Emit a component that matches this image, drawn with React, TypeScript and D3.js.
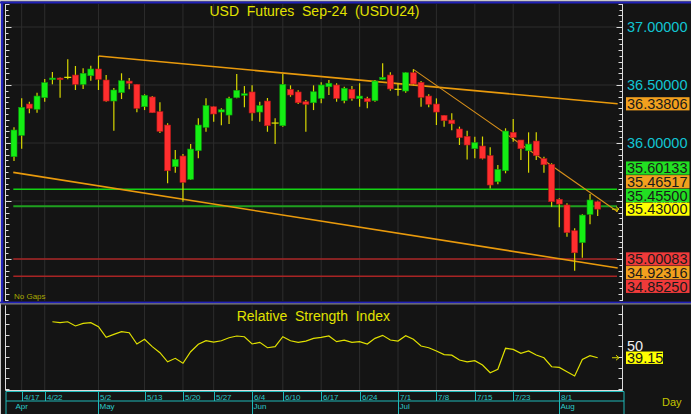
import * as d3 from 'd3';
import { useRef, useEffect } from 'react';

// trading days shown (Thai USD futures, Sep-24 contract)
const dates = [
  '4/12', '4/17', '4/18', '4/19', '4/22', '4/23', '4/24', '4/25', '4/26', '4/29',
  '4/30', '5/2', '5/3', '5/7', '5/8', '5/9', '5/10', '5/13', '5/14', '5/15',
  '5/16', '5/17', '5/20', '5/21', '5/23', '5/24', '5/27', '5/28', '5/29', '5/30',
  '5/31', '6/4', '6/5', '6/6', '6/7', '6/10', '6/11', '6/12', '6/13', '6/14',
  '6/17', '6/18', '6/19', '6/20', '6/21', '6/24', '6/25', '6/26', '6/27', '6/28',
  '7/1', '7/2', '7/3', '7/4', '7/5', '7/8', '7/9', '7/10', '7/11', '7/12',
  '7/15', '7/16', '7/17', '7/18', '7/19', '7/23', '7/24', '7/25', '7/26', '7/30',
  '7/31', '8/1', '8/2', '8/5', '8/6', '8/7', '8/8',
];

const opens = [
  35.882, 36.066, 36.336, 36.291, 36.391, 36.546, 36.560, 36.566, 36.586, 36.506,
  36.580, 36.638, 36.543, 36.362, 36.434, 36.534, 36.506, 36.313, 36.397, 36.270,
  36.155, 35.796, 35.888, 35.687, 35.934, 36.135, 36.313, 36.267, 36.241, 36.391,
  36.411, 36.440, 36.267, 36.362, 36.172, 36.149, 36.463, 36.440, 36.356, 36.347,
  36.385, 36.485, 36.500, 36.365, 36.463, 36.382, 36.385, 36.365, 36.549, 36.586,
  36.463, 36.448, 36.606, 36.523, 36.405, 36.336, 36.239, 36.198, 36.121, 36.058,
  35.951, 35.974, 35.891, 35.666, 35.761, 36.092, 36.026, 35.934, 36.017, 35.865,
  35.816, 35.515, 35.466, 35.244, 35.141, 35.385, 35.494,
];
const highs = [
  36.135, 36.385, 36.356, 36.434, 36.552, 36.612, 36.565, 36.722, 36.664, 36.644,
  36.666, 36.750, 36.586, 36.474, 36.601, 36.560, 36.509, 36.420, 36.405, 36.351,
  36.170, 35.940, 35.905, 35.991, 36.213, 36.385, 36.316, 36.299, 36.399, 36.595,
  36.491, 36.497, 36.356, 36.388, 36.213, 36.595, 36.497, 36.454, 36.371, 36.497,
  36.523, 36.543, 36.515, 36.485, 36.491, 36.515, 36.399, 36.543, 36.687, 36.609,
  36.515, 36.610, 36.635, 36.534, 36.420, 36.385, 36.242, 36.256, 36.141, 36.106,
  36.054, 36.056, 35.963, 35.810, 36.127, 36.207, 36.026, 36.092, 36.092, 35.882,
  35.825, 35.523, 35.480, 35.265, 35.385, 35.560, 35.503,
];
const lows = [
  35.845, 35.951, 36.256, 36.261, 36.356, 36.506, 36.391, 36.549, 36.457, 36.466,
  36.537, 36.457, 36.356, 36.106, 36.379, 36.463, 36.265, 36.284, 36.259, 36.086,
  35.653, 35.744, 35.494, 35.681, 35.868, 36.097, 36.184, 36.153, 36.164, 36.385,
  36.308, 36.192, 36.184, 36.097, 35.991, 36.141, 36.399, 36.336, 36.097, 36.284,
  36.342, 36.414, 36.356, 36.342, 36.365, 36.313, 36.299, 36.356, 36.543, 36.451,
  36.408, 36.434, 36.497, 36.313, 36.308, 36.155, 36.141, 36.109, 35.983, 35.859,
  35.868, 35.859, 35.609, 35.644, 35.739, 36.011, 35.853, 35.744, 35.853, 35.744,
  35.451, 35.273, 35.192, 34.899, 35.011, 35.299, 35.371,
];
const closes = [
  36.112, 36.308, 36.299, 36.405, 36.520, 36.560, 36.546, 36.566, 36.506, 36.601,
  36.638, 36.549, 36.362, 36.457, 36.537, 36.515, 36.299, 36.411, 36.261, 36.101,
  35.761, 35.859, 35.661, 35.948, 36.155, 36.322, 36.250, 36.287, 36.385, 36.454,
  36.425, 36.259, 36.322, 36.149, 36.172, 36.506, 36.414, 36.347, 36.334, 36.442,
  36.500, 36.515, 36.385, 36.472, 36.385, 36.405, 36.356, 36.534, 36.566, 36.466,
  36.463, 36.606, 36.509, 36.394, 36.334, 36.267, 36.192, 36.166, 36.046, 35.983,
  36.003, 35.868, 35.638, 35.773, 36.103, 36.049, 35.951, 35.991, 35.891, 35.813,
  35.494, 35.474, 35.227, 35.054, 35.379, 35.509, 35.430,
];

const rsi: (number | null)[] = [
  null, null, null, null, null, 72.5, 71.6, 72.5, 68.6, 71.0,
  71.6, 67.9, 58.0, 60.8, 63.3, 62.3, 51.9, 56.2, 49.4, 43.8,
  35.4, 38.6, 34.0, 44.7, 51.6, 54.9, 53.7, 54.9, 57.7, 59.3,
  58.6, 51.9, 53.4, 48.4, 49.4, 58.6, 54.9, 53.4, 54.6, 57.1,
  58.0, 59.3, 54.0, 55.5, 53.4, 54.0, 51.9, 57.1, 59.9, 55.6,
  54.6, 59.6, 56.2, 50.0, 48.4, 45.4, 42.0, 41.5, 37.0, 35.4,
  36.4, 32.4, 25.2, 28.5, 47.9, 46.9, 43.2, 45.4, 41.7, 39.1,
  30.8, 30.2, 26.2, 22.2, 37.5, 41.0, 39.15,
];

const dateTicks = ['4/17', '4/22', '5/2', '5/13', '5/20', '5/27', '6/4', '6/10', '6/17', '6/24', '7/1', '7/8', '7/15', '7/23', '8/1'];
const monthNames = ['Apr', 'May', 'Jun', 'Jul', 'Aug'];
const monthStarts = ['4/12', '5/2', '6/4', '7/1', '8/1'];

const priceTicks = [37, 36.5, 36, 35.5, 35];
const rsiTicks = [10, 20, 30, 40, 50, 60, 70, 80];

// drawn levels and trend lines (bar index, price)
const levelValues = [35.60133, 35.455, 35.00083, 34.8525];
const levelKinds = ['support', 'pivot', 'stop', 'stop'];
const trendFrom = [[11, 36.75], [-0.1, 35.747], [52, 36.635]];
const trendTo = [[78.6, 36.33806], [78.6, 34.92316], [78.6, 35.408]];
const trendKinds = ['channel', 'channel', 'short'];

// right-hand value tags, top to bottom
const tagValues = [36.33806, 35.60133, 35.46517, 35.455, 35.43, 35.00083, 34.92316, 34.8525];
const tagKinds = ['trend', 'support', 'trend', 'support', 'last', 'stop', 'trend', 'stop'];
const lastPrice = 35.43;
const rsiLast = 39.15;

const FONT = 'Liberation Sans, Arial, sans-serif';
const tagColor: Record<string, string> = {
  trend: '#f2a01e', support: '#22e022', last: '#ffff00', stop: '#f03a3a',
};
const levelColor: Record<string, string> = {
  support: '#12d212', pivot: '#1fa01f', stop: '#a82424',
};

export default function App() {
  const svgRef = useRef<SVGSVGElement>(null);

  useEffect(() => {
    if (!svgRef.current) return;
    const svg = d3.select(svgRef.current);
    svg.selectAll('*').remove();

    const W = 691, H = 414;
    const axisX = 622.5;
    const mainTop = 4, mainBottom = 301;
    const rsiTop = 305.5, rsiBottom = 390.5;

    const x = d3.scaleLinear().domain([0, dates.length - 1]).range([14, 597.7]);
    const y = d3.scaleLinear().domain([34.64, 37.2]).range([300.8, 3.8]);
    const yr = d3.scaleLinear().domain([8.3, 87.1]).range([391, 306]);
    const at = (d: string) => x(dates.indexOf(d));

    svg.append('rect').attr('width', W).attr('height', H).attr('fill', '#141414');

    // frame
    svg.append('rect').attr('x', 0).attr('y', 0).attr('width', W).attr('height', 1.5).attr('fill', '#c8c8c8');
    svg.append('rect').attr('x', 0).attr('y', 0).attr('width', 1).attr('height', H).attr('fill', '#c8c8c8');
    svg.append('rect').attr('x', 0).attr('y', 1.5).attr('width', W).attr('height', 2).attr('fill', '#2020b8');
    svg.append('rect').attr('x', 1).attr('y', 1.5).attr('width', 2.3).attr('height', 301).attr('fill', '#2020b8');
    svg.append('rect').attr('x', 0).attr('y', 301.6).attr('width', W).attr('height', 1.8).attr('fill', '#2020b8');
    svg.append('rect').attr('x', 0).attr('y', 303.4).attr('width', W).attr('height', 1).attr('fill', '#9a9a9a');

    // grid
    const grid = svg.append('g').attr('stroke', '#2d2d2d').attr('stroke-width', 1);
    dateTicks.forEach((d) => {
      grid.append('line').attr('x1', at(d)).attr('x2', at(d)).attr('y1', mainTop).attr('y2', mainBottom);
      grid.append('line').attr('x1', at(d)).attr('x2', at(d)).attr('y1', rsiTop).attr('y2', rsiBottom);
    });
    priceTicks.forEach((p) => {
      grid.append('line').attr('x1', 6).attr('x2', axisX).attr('y1', y(p)).attr('y2', y(p));
    });

    // axes lines + ticks
    const axes = svg.append('g').attr('stroke', '#dcdcdc').attr('stroke-width', 1);
    axes.append('line').attr('x1', 5.5).attr('x2', 5.5).attr('y1', mainTop).attr('y2', mainBottom);
    axes.append('line').attr('x1', axisX).attr('x2', axisX).attr('y1', mainTop).attr('y2', mainBottom);
    axes.append('line').attr('x1', 5.5).attr('x2', 5.5).attr('y1', rsiTop).attr('y2', rsiBottom);
    axes.append('line').attr('x1', axisX).attr('x2', axisX).attr('y1', rsiTop).attr('y2', rsiBottom);
    axes.append('line').attr('x1', 5.5).attr('x2', axisX).attr('y1', rsiBottom).attr('y2', rsiBottom);
    d3.range(34.65, 37.2, 0.05).forEach((v) => {
      const half = Math.abs(v * 2 - Math.round(v * 2)) < 1e-6;
      const tenth = Math.abs(v * 10 - Math.round(v * 10)) < 1e-6;
      const len = half ? 6 : tenth ? 4 : 3;
      const yy = Math.round(y(v)) + 0.5;
      axes.append('line').attr('x1', 5.5).attr('x2', 5.5 + len).attr('y1', yy).attr('y2', yy);
      axes.append('line').attr('x1', axisX - len).attr('x2', axisX).attr('y1', yy).attr('y2', yy);
    });
    rsiTicks.forEach((v) => {
      const yy = Math.round(yr(v)) + 0.5;
      axes.append('line').attr('x1', 5.5).attr('x2', 9.5).attr('y1', yy).attr('y2', yy);
      axes.append('line').attr('x1', axisX - 4).attr('x2', axisX).attr('y1', yy).attr('y2', yy);
    });

    // price axis labels
    svg.append('g')
      .attr('transform', `translate(${axisX},0)`)
      .call(d3.axisRight(y).tickValues(priceTicks).tickSize(0).tickPadding(4.5).tickFormat(d3.format('.5f')))
      .call((ag) => ag.select('.domain').remove())
      .call((ag) => ag.selectAll('.tick text')
        .attr('font-family', FONT).attr('font-size', 14.5).attr('fill', '#12c4d2'));

    // levels
    levelValues.forEach((v, i) => {
      svg.append('line')
        .attr('x1', 13.3).attr('x2', 617).attr('y1', y(v)).attr('y2', y(v))
        .attr('stroke', levelColor[levelKinds[i]])
        .attr('stroke-width', levelKinds[i] === 'pivot' ? 2 : 1.5);
    });

    // trend lines
    trendFrom.forEach((f, i) => {
      const t = trendTo[i];
      svg.append('line')
        .attr('x1', x(f[0])).attr('y1', y(f[1]))
        .attr('x2', x(t[0])).attr('y2', y(t[1]))
        .attr('stroke', trendKinds[i] === 'short' ? '#d8901a' : '#e99a0c')
        .attr('stroke-width', trendKinds[i] === 'short' ? 1.1 : 1.6);
    });

    // candles
    const candles = svg.append('g');
    dates.forEach((_, i) => {
      const cx = x(i);
      const o = opens[i], c = closes[i];
      candles.append('line')
        .attr('x1', cx).attr('x2', cx).attr('y1', y(highs[i])).attr('y2', y(lows[i]))
        .attr('stroke', '#d8d800').attr('stroke-width', 1.2);
      if (o === c) {
        candles.append('line')
          .attr('x1', cx - 3.5).attr('x2', cx + 3.5).attr('y1', y(o)).attr('y2', y(o))
          .attr('stroke', '#e8e800').attr('stroke-width', 1.2);
        return;
      }
      const up = c > o;
      const top = y(Math.max(o, c));
      const h = Math.max(1.6, Math.abs(y(o) - y(c)));
      candles.append('rect')
        .attr('x', cx - 3).attr('width', 6).attr('y', top).attr('height', h)
        .attr('fill', up ? '#14ee14' : '#ff2e2e')
        .attr('stroke', up ? '#0c9c0c' : '#b01818').attr('stroke-width', 0.6);
    });

    // last price marker
    const arrow = (ay: number) => {
      svg.append('path')
        .attr('d', `M612,${ay}L619,${ay}M616,${ay - 2.5}L619,${ay}L616,${ay + 2.5}`)
        .attr('stroke', '#d8d800').attr('stroke-width', 1).attr('fill', 'none');
    };
    arrow(y(lastPrice));

    // value tags with simple collision stacking around last price
    const gap = 13.7;
    const tagY = tagValues.map((v) => y(v));
    const anchor = tagValues.indexOf(lastPrice);
    for (let i = anchor - 1; i >= 0; i--) tagY[i] = Math.min(tagY[i], tagY[i + 1] - gap);
    for (let i = anchor + 1; i < tagY.length; i++) tagY[i] = Math.max(tagY[i], tagY[i - 1] + gap);
    tagValues.forEach((v, i) => {
      svg.append('rect')
        .attr('x', 626).attr('y', tagY[i] - 6.6).attr('width', 63.5).attr('height', 13.2)
        .attr('fill', tagColor[tagKinds[i]]);
      svg.append('text')
        .attr('x', 627).attr('y', tagY[i] + 5.2)
        .attr('font-family', FONT).attr('font-size', 14.5).attr('fill', '#1a1a1a')
        .text(v.toFixed(5));
    });

    // titles
    svg.append('text')
      .attr('x', 314.5).attr('y', 16).attr('text-anchor', 'middle')
      .attr('font-family', FONT).attr('font-size', 14).attr('fill', '#e2e200')
      .attr('style', 'white-space:pre')
      .text('USD  Futures  Sep-24  (USDU24)');
    svg.append('text')
      .attr('x', 14).attr('y', 299)
      .attr('font-family', FONT).attr('font-size', 8).attr('fill', '#a8a800')
      .text('No Gaps');

    // RSI
    const rsiLine = d3.line<number | null>()
      .defined((d) => d !== null)
      .x((_, i) => x(i))
      .y((d) => yr(d as number));
    svg.append('path')
      .datum(rsi)
      .attr('fill', 'none').attr('stroke', '#e0e000').attr('stroke-width', 1.2)
      .attr('d', rsiLine);

    svg.append('text')
      .attr('x', 313.3).attr('y', 320.7).attr('text-anchor', 'middle')
      .attr('font-family', FONT).attr('font-size', 14).attr('fill', '#e2e200')
      .attr('style', 'white-space:pre')
      .text('Relative  Strength  Index');

    svg.append('text')
      .attr('x', 627).attr('y', yr(50) + 5.2)
      .attr('font-family', FONT).attr('font-size', 14.5).attr('fill', '#f0f0f0')
      .text('50');
    svg.append('rect')
      .attr('x', 626).attr('y', yr(rsiLast) - 6.2).attr('width', 37).attr('height', 12.4)
      .attr('fill', '#ffff00');
    svg.append('text')
      .attr('x', 627).attr('y', yr(rsiLast) + 5.2)
      .attr('font-family', FONT).attr('font-size', 14.5).attr('fill', '#1a1a1a')
      .text(rsiLast.toFixed(2));
    arrow(yr(rsiLast));

    // date axis
    const ax = svg.append('g').attr('stroke', '#1fb8b8').attr('stroke-width', 1);
    ax.append('line').attr('x1', 6).attr('x2', 624).attr('y1', 391.5).attr('y2', 391.5);
    ax.append('line').attr('x1', 6).attr('x2', 624).attr('y1', 401).attr('y2', 401);
    ax.append('line').attr('x1', 6).attr('x2', 6).attr('y1', 391.5).attr('y2', H);
    ax.append('line').attr('x1', 624).attr('x2', 624).attr('y1', 391.5).attr('y2', H);
    dateTicks.forEach((d) => {
      const tx = Math.round(at(d)) + 0.5;
      ax.append('line').attr('x1', tx).attr('x2', tx).attr('y1', 391.5).attr('y2', 401);
      svg.append('text')
        .attr('x', tx + 1.5).attr('y', 399.5)
        .attr('font-family', FONT).attr('font-size', 8).attr('fill', '#2ccaca')
        .text(d);
    });
    monthNames.forEach((m, i) => {
      const tx = Math.round(at(monthStarts[i])) + 0.5;
      if (i > 0) ax.append('line').attr('x1', tx).attr('x2', tx).attr('y1', 401).attr('y2', H);
      svg.append('text')
        .attr('x', tx + 1).attr('y', 409)
        .attr('font-family', FONT).attr('font-size', 8).attr('fill', '#2ccaca')
        .text(m);
    });

    svg.append('text')
      .attr('x', 662).attr('y', 405.5)
      .attr('font-family', FONT).attr('font-size', 11).attr('fill', '#c4c400')
      .text('Day');
  }, []);

  return (
    <div style={{ position: 'fixed', left: 0, top: 0 }}>
      <svg ref={svgRef} width={691} height={414} style={{ display: 'block' }} />
    </div>
  );
}
